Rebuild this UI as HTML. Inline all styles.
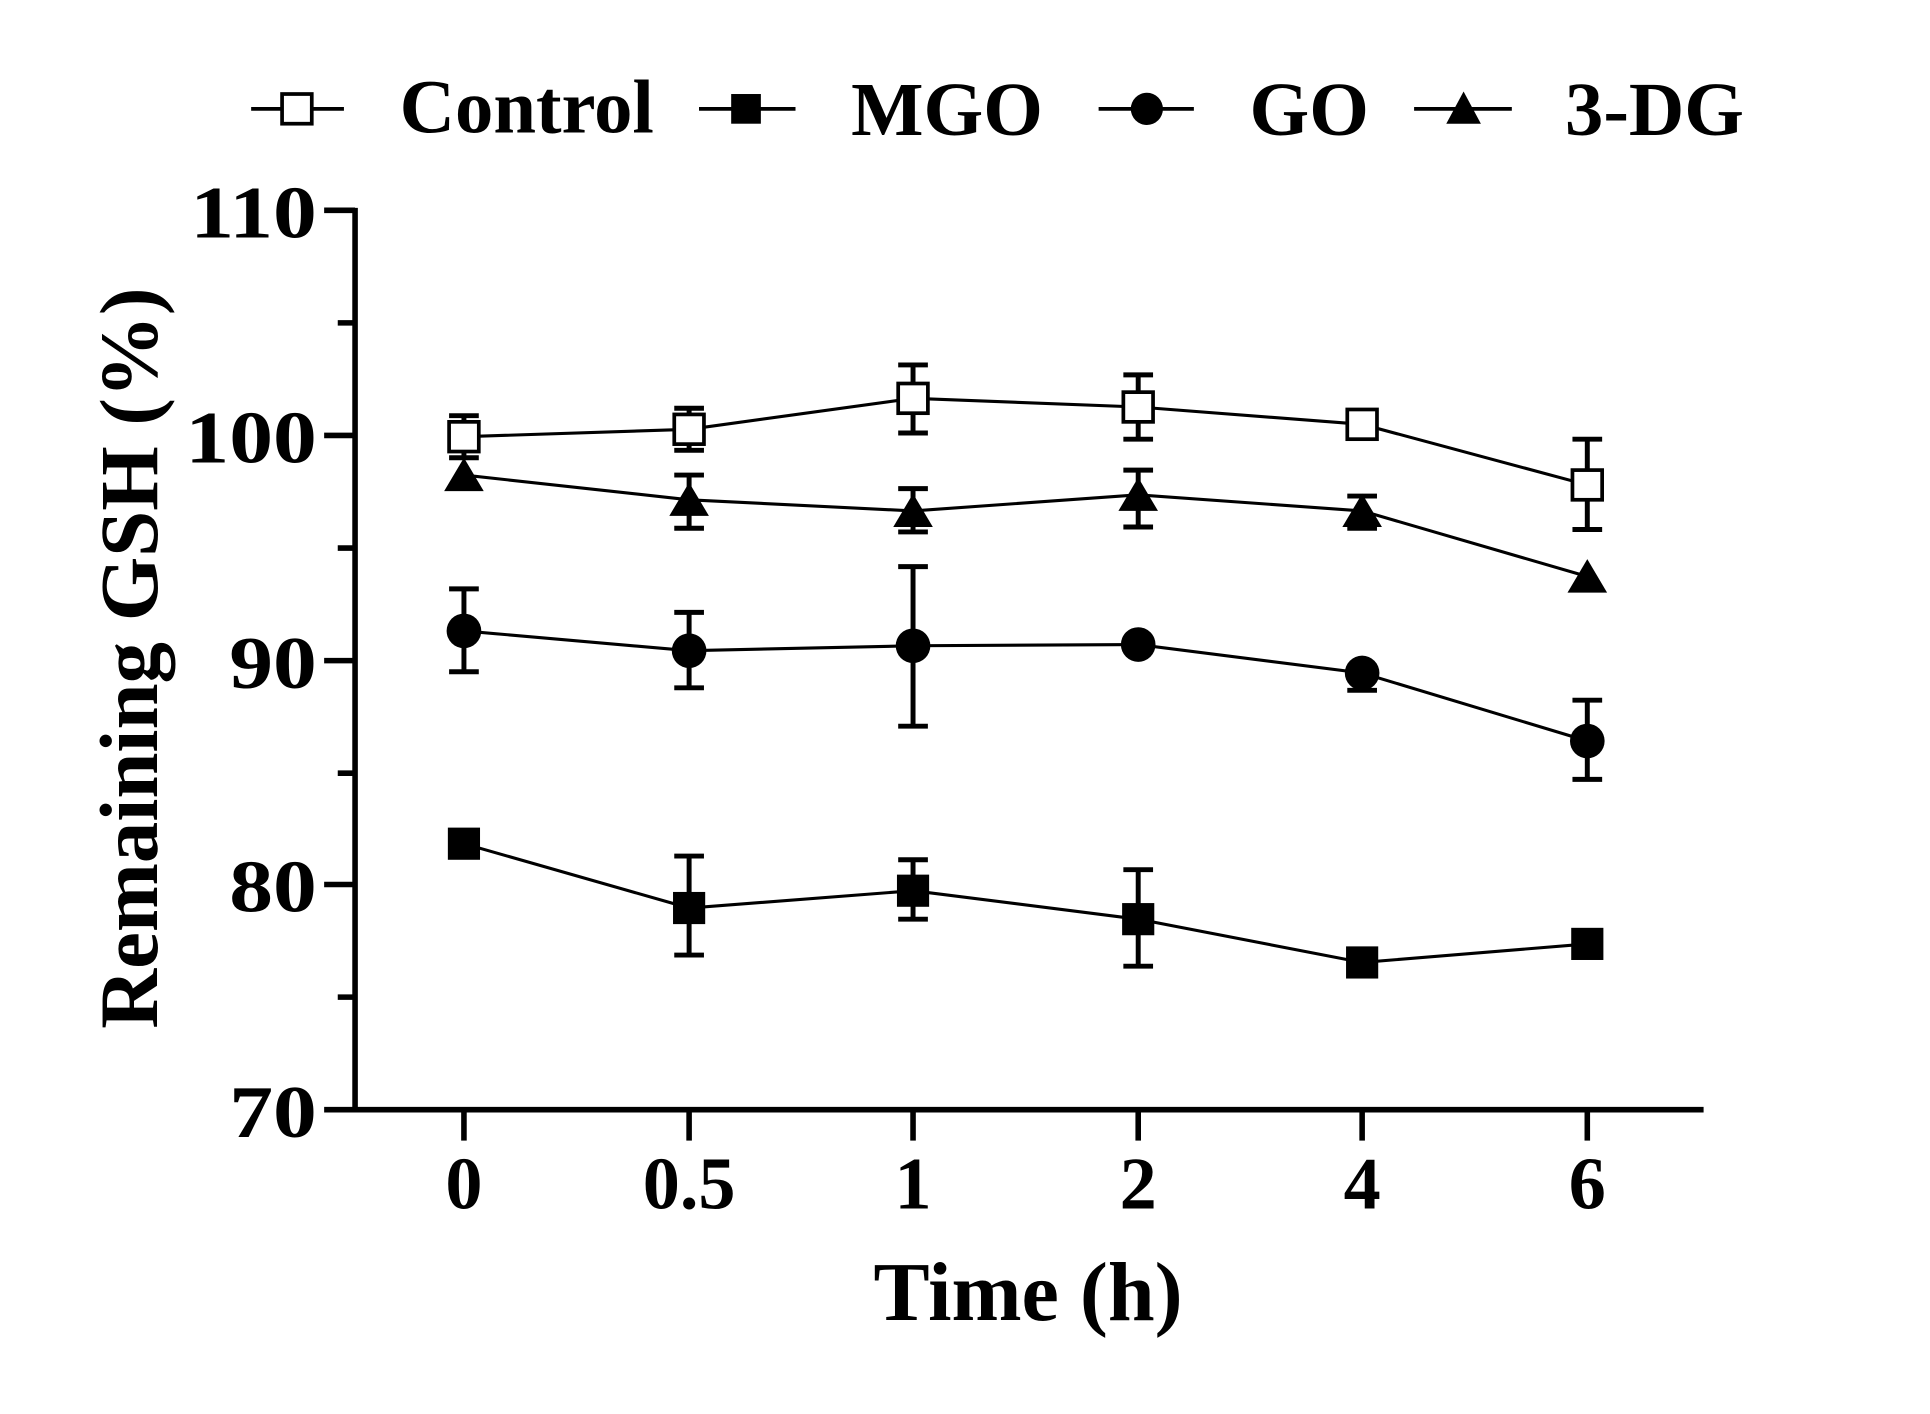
<!DOCTYPE html>
<html><head><style>html,body{margin:0;padding:0;background:#fff}svg{display:block}</style></head>
<body>
<svg width="1930" height="1414" viewBox="0 0 1560 1143" preserveAspectRatio="none" xmlns="http://www.w3.org/2000/svg" font-family="Liberation Serif, serif" font-weight="bold">
<rect width="1560" height="1143" fill="#fff"/>
<g stroke="#000" stroke-width="4.5" fill="none">
<line x1="287" y1="168" x2="287" y2="899"/>
<line x1="285" y1="897" x2="1377" y2="897"/>
<line x1="262" y1="170" x2="287" y2="170"/>
<line x1="262" y1="352" x2="287" y2="352"/>
<line x1="262" y1="534" x2="287" y2="534"/>
<line x1="262" y1="715" x2="287" y2="715"/>
<line x1="262" y1="897" x2="287" y2="897"/>
<line x1="273" y1="261" x2="287" y2="261"/>
<line x1="273" y1="443" x2="287" y2="443"/>
<line x1="273" y1="625" x2="287" y2="625"/>
<line x1="273" y1="806" x2="287" y2="806"/>
<line x1="375" y1="897" x2="375" y2="922"/>
<line x1="557" y1="897" x2="557" y2="922"/>
<line x1="738" y1="897" x2="738" y2="922"/>
<line x1="920" y1="897" x2="920" y2="922"/>
<line x1="1101" y1="897" x2="1101" y2="922"/>
<line x1="1283" y1="897" x2="1283" y2="922"/>
</g>
<g font-size="60" text-anchor="end" transform="scale(1.18,1)">
<text x="217" y="192">110</text><text x="217" y="374">100</text><text x="217" y="556">90</text><text x="217" y="737">80</text><text x="217" y="919">70</text>
</g>
<g font-size="60" text-anchor="middle">
<text x="375" y="977">0</text><text x="557" y="977">0.5</text><text x="738" y="977">1</text><text x="920" y="977">2</text><text x="1101" y="977">4</text><text x="1283" y="977">6</text>
</g>
<text x="831" y="1067" font-size="68" text-anchor="middle">Time (h)</text>
<text transform="translate(127,532) rotate(-90)" font-size="67" text-anchor="middle">Remaining GSH (%)</text>
<g stroke="#000" stroke-width="3">
<line x1="203" y1="88" x2="278" y2="88"/><line x1="565" y1="88" x2="643" y2="88"/><line x1="888" y1="88" x2="965" y2="88"/><line x1="1143" y1="88" x2="1222" y2="88"/>
</g>
<rect x="228" y="76" width="24" height="24" fill="#fff" stroke="#000" stroke-width="3"/>
<rect x="591" y="76" width="24" height="24" fill="#000"/>
<circle cx="927" cy="88" r="13" fill="#000"/>
<polygon points="1183,74 1197,100 1169,100" fill="#000"/>
<g font-size="62">
<text x="323" y="107">Control</text><text x="688" y="109">MGO</text><text x="1010" y="109">GO</text><text x="1265" y="109">3-DG</text>
</g>
<g stroke="#000" stroke-width="2.5" fill="none">
<polyline points="375,353 557,347 738,322 920,329 1101,343 1283,392"/>
<polyline points="375,384 557,404 738,413 920,400 1101,413 1283,466"/>
<polyline points="375,510 557,526 738,522 920,521 1101,544 1283,599"/>
<polyline points="375,682 557,734 738,720 920,743 1101,778 1283,763"/>
</g>
<g stroke="#000" stroke-width="4" fill="none">
<path d="M375,336V370M363,336H387M363,370H387"/>
<path d="M557,330V364M545,330H569M545,364H569"/>
<path d="M738,295V350M726,295H750M726,350H750"/>
<path d="M920,303V355M908,303H932M908,355H932"/>
<path d="M1283,355V428M1271,355H1295M1271,428H1295"/>
<path d="M557,384V427M545,384H569M545,427H569"/>
<path d="M738,395V430M726,395H750M726,430H750"/>
<path d="M920,380V426M908,380H932M908,426H932"/>
<path d="M1101,401V427M1089,401H1113M1089,427H1113"/>
<path d="M375,476V543M363,476H387M363,543H387"/>
<path d="M557,495V556M545,495H569M545,556H569"/>
<path d="M738,458V587M726,458H750M726,587H750"/>
<path d="M1101,533V558M1089,558H1113"/>
<path d="M1283,566V630M1271,566H1295M1271,630H1295"/>
<path d="M557,692V772M545,692H569M545,772H569"/>
<path d="M738,695V743M726,695H750M726,743H750"/>
<path d="M920,703V781M908,703H932M908,781H932"/>
</g>
<g fill="#fff" stroke="#000" stroke-width="3">
<rect x="363" y="341" width="24" height="24"/><rect x="545" y="335" width="24" height="24"/><rect x="726" y="310" width="24" height="24"/><rect x="908" y="317" width="24" height="24"/><rect x="1089" y="331" width="24" height="24"/><rect x="1271" y="380" width="24" height="24"/>
</g>
<g fill="#000">
<polygon points="375,370 391,397 359,397"/><polygon points="557,390 573,417 541,417"/><polygon points="738,399 754,426 722,426"/><polygon points="920,386 936,413 904,413"/><polygon points="1101,399 1117,426 1085,426"/><polygon points="1283,452 1299,479 1267,479"/>
<circle cx="375" cy="510" r="14"/><circle cx="557" cy="526" r="14"/><circle cx="738" cy="522" r="14"/><circle cx="920" cy="521" r="14"/><circle cx="1101" cy="544" r="14"/><circle cx="1283" cy="599" r="14"/>
<rect x="362" y="669" width="26" height="26"/><rect x="544" y="721" width="26" height="26"/><rect x="725" y="707" width="26" height="26"/><rect x="907" y="730" width="26" height="26"/><rect x="1088" y="765" width="26" height="26"/><rect x="1270" y="750" width="26" height="26"/>
</g>
</svg>
</body></html>
